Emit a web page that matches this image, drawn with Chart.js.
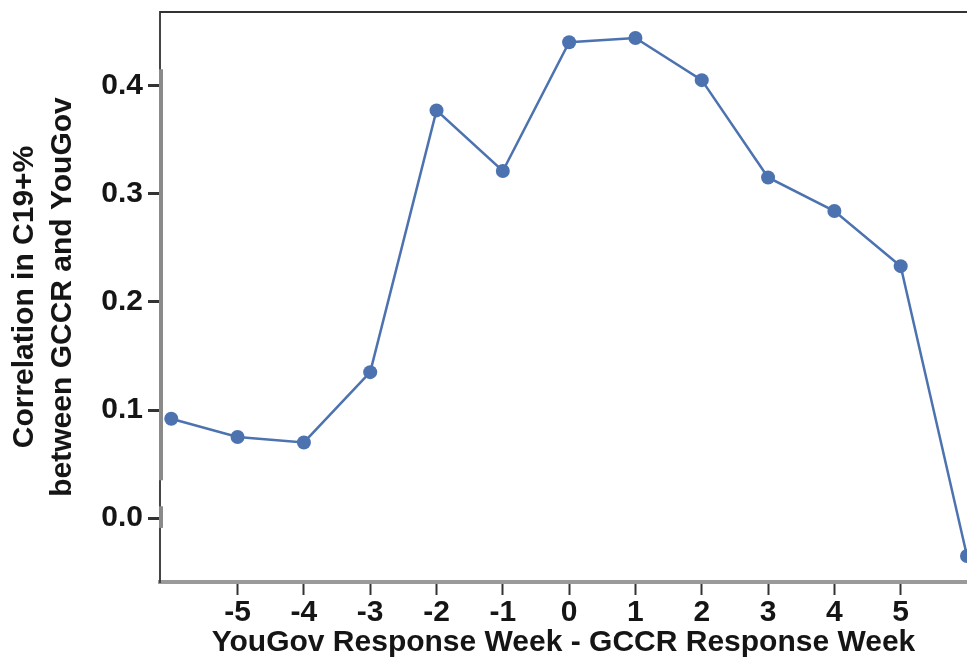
<!DOCTYPE html>
<html>
<head>
<meta charset="utf-8">
<script src="https://cdn.jsdelivr.net/npm/chart.js@4/dist/chart.umd.min.js"></script>
<style>
    html, body { margin: 0; padding: 0; background: #ffffff; }
    #wrap { width: 967px; height: 669px; }
</style>
</head>
<body>
<div id="wrap"><canvas id="corrChart"></canvas></div>
<script>
// Lag between YouGov and GCCR response weeks
const weekLags = [-6, -5, -4, -3, -2, -1, 0, 1, 2, 3, 4, 5, 6];
const correlations = [0.092, 0.075, 0.070, 0.135, 0.377, 0.321, 0.440, 0.444, 0.405, 0.315, 0.284, 0.233, -0.035];
const xTicks = [-5, -4, -3, -2, -1, 0, 1, 2, 3, 4, 5];
const yTicks = [0.0, 0.1, 0.2, 0.3, 0.4];

const textColor = '#151515';
const fontFamily = "'Liberation Sans', Arial, sans-serif";

// top frame line and the thick grey pieces of the left spine
const framePlugin = {
    id: 'frame',
    afterDraw(chart) {
        const c = chart.ctx;
        const area = chart.chartArea;
        const y = chart.scales.y;
        c.save();
        c.strokeStyle = '#333333';
        c.lineWidth = 2;
        c.beginPath();
        c.moveTo(area.left, area.top);
        c.lineTo(area.right, area.top);
        c.stroke();

        c.strokeStyle = '#8a8a8a';
        c.lineWidth = 4;
        [[0.415, 0.035], [0.011, -0.009]].forEach(function(seg) {
            c.beginPath();
            c.moveTo(area.left + 1, y.getPixelForValue(seg[0]));
            c.lineTo(area.left + 1, y.getPixelForValue(seg[1]));
            c.stroke();
        });
        c.restore();
    }
};

// no extra room for half labels, the plot runs to the edges
function noPadding(scale) {
    scale.paddingTop = 0;
    scale.paddingBottom = 0;
    scale.paddingLeft = 0;
    scale.paddingRight = 0;
}

const ctx = document.getElementById('corrChart').getContext('2d');
new Chart(ctx, {
    type: 'line',
    data: {
        datasets: [{
            data: weekLags.map(function(lag, i) {
                return { x: lag, y: correlations[i] };
            }),
            borderColor: '#4C72B0',
            backgroundColor: '#4C72B0',
            borderWidth: 2.5,
            pointRadius: 7,
            pointHoverRadius: 7,
            pointBorderWidth: 0,
            tension: 0,
            fill: false
        }]
    },
    options: {
        responsive: true,
        maintainAspectRatio: false,
        animation: false,
        layout: {
            autoPadding: false,
            padding: { top: 12, right: 0, left: 0, bottom: 0 }
        },
        plugins: {
            legend: { display: false },
            tooltip: { enabled: false }
        },
        scales: {
            x: {
                type: 'linear',
                min: -6.17,
                max: 6,
                afterBuildTicks: function(scale) {
                    scale.ticks = xTicks.map(function(v) { return { value: v }; });
                },
                afterFit: function(scale) {
                    scale.height = 87;
                    noPadding(scale);
                },
                grid: {
                    drawOnChartArea: false,
                    drawTicks: true,
                    tickLength: 13,
                    tickWidth: 2,
                    tickColor: '#333333'
                },
                border: {
                    display: true,
                    color: '#9a9a9a',
                    width: 4
                },
                ticks: {
                    color: textColor,
                    padding: 0,
                    font: { family: fontFamily, size: 30, weight: 'bold' },
                    callback: function(v) { return String(v); }
                },
                title: {
                    display: true,
                    text: 'YouGov Response Week - GCCR Response Week',
                    color: textColor,
                    font: { family: fontFamily, size: 30, weight: 'bold' },
                    padding: { top: 0, bottom: 8 }
                }
            },
            y: {
                min: -0.059,
                max: 0.468,
                afterBuildTicks: function(scale) {
                    scale.ticks = yTicks.map(function(v) { return { value: v }; });
                },
                afterFit: function(scale) {
                    scale.width = 160;
                    noPadding(scale);
                },
                grid: {
                    drawOnChartArea: false,
                    drawTicks: true,
                    tickLength: 12,
                    tickWidth: 3,
                    tickColor: '#333333'
                },
                border: {
                    display: true,
                    color: '#444444',
                    width: 2
                },
                ticks: {
                    color: textColor,
                    padding: 5,
                    font: { family: fontFamily, size: 30, weight: 'bold' },
                    callback: function(v) { return v.toFixed(1); }
                },
                title: {
                    display: true,
                    text: ['Correlation in C19+%', 'between GCCR and YouGov'],
                    color: textColor,
                    font: { family: fontFamily, size: 30, weight: 'bold', lineHeight: 1.27 },
                    padding: { top: 6, bottom: 0 }
                }
            }
        }
    },
    plugins: [framePlugin]
});
</script>
</body>
</html>
